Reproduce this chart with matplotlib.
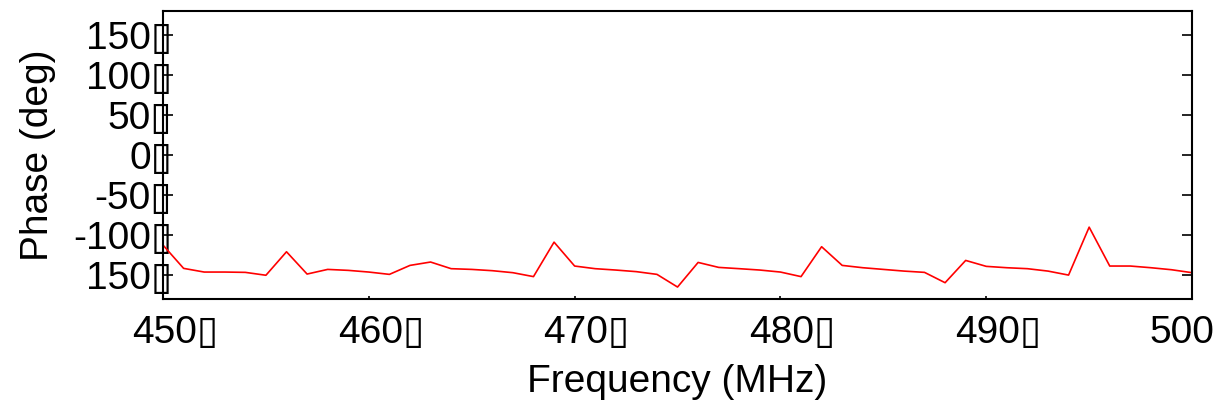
import matplotlib
matplotlib.use("Agg")
import matplotlib.pyplot as plt
from matplotlib.transforms import ScaledTranslation

plt.rcParams['font.family'] = ['Liberation Sans', 'DejaVu Sans']

BOX = "\u25af"

freq_mhz = [450, 451, 452, 453, 454, 455, 456, 457, 458, 459,
            460, 461, 462, 463, 464, 465, 466, 467, 468, 469,
            470, 471, 472, 473, 474, 475, 476, 477, 478, 479,
            480, 481, 482, 483, 484, 485, 486, 487, 488, 489,
            490, 491, 492, 493, 494, 495, 496, 497, 498, 499, 500]
phase_deg = [-112.4, -141.4, -146.0, -146.0, -146.4, -150.0, -120.7, -148.5, -142.7, -143.9,
             -146.0, -148.9, -137.7, -133.5, -141.8, -142.7, -144.3, -146.8, -151.7, -108.7,
             -138.5, -141.8, -143.5, -145.5, -148.9, -164.7, -134.0, -140.2, -141.8, -143.5,
             -146.0, -151.7, -114.4, -137.7, -140.6, -142.7, -144.8, -146.4, -159.3, -131.5,
             -138.9, -140.6, -141.8, -144.8, -149.8, -90.0, -138.5, -138.5, -140.6, -143.1, -146.8]

x_ticks = [450, 460, 470, 480, 490, 500]
x_tick_labels = ["450" + BOX, "460" + BOX, "470" + BOX, "480" + BOX, "490" + BOX, "500"]
y_ticks = [-150, -100, -50, 0, 50, 100, 150]
y_tick_labels = ["150" + BOX, "-100" + BOX, "-50" + BOX, "0" + BOX, "50" + BOX, "100" + BOX, "150" + BOX]

fig = plt.figure(figsize=(12.22, 4.09), dpi=100)
ax = fig.add_axes([0.1334, 0.2682, 0.8421, 0.7056])

ax.plot(freq_mhz, phase_deg, color="red", lw=1.2)

ax.set_xlim(450, 500)
ax.set_ylim(-180, 180)

ax.set_xticks(x_ticks)
ax.set_xticklabels(x_tick_labels, fontsize=28)
ax.set_yticks(y_ticks)
ax.set_yticklabels(y_tick_labels, fontsize=28)

for s in ax.spines.values():
    s.set_linewidth(1.5)

ax.tick_params(axis="y", direction="in", length=7, width=1.2, left=True, right=True, pad=-6.5)
ax.tick_params(axis="x", direction="in", length=2.5, width=1.2, bottom=True, top=False, pad=11)

# keep the digits centred on each tick, with the trailing box hanging to the right
for lab in ax.get_xticklabels():
    dx = 12 if lab.get_text().endswith(BOX) else -10
    lab.set_transform(lab.get_transform() + ScaledTranslation(dx / 100, 0, fig.dpi_scale_trans))

ax.set_xlabel("Frequency (MHz)", fontsize=28, labelpad=10)
ax.set_ylabel("Phase (deg)", fontsize=28)
ax.yaxis.set_label_coords(-0.104, 0.5)

fig.savefig("out.png", dpi=100)
